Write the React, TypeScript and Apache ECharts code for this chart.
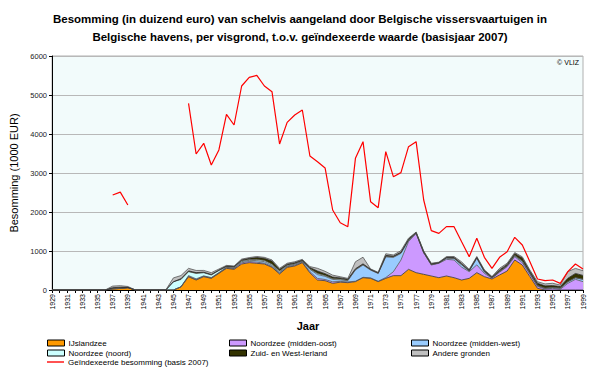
import React, { useEffect, useRef } from "react";
import * as echarts from "echarts";

const years: string[] = Array.from({ length: 71 }, (_, i) => String(1929 + i));

const ijslandzee = [
  0, 0, 0, 0, 0, 0, 0, 0, 30, 40, 60, 0, 0, 0, 0, 0, 0,
  80, 340, 256, 342, 299, 427, 556, 530, 667, 701, 684, 667, 581, 410, 581, 615, 700, 440, 256, 239, 171, 200, 188,
  214, 316, 299, 214, 299, 368, 368, 530, 444, 402, 359, 316, 359, 316, 256, 299, 444, 342, 282, 385, 487, 769, 641,
  342, 43, 0, 0, 0, 0, 0, 0,
];
const middenOost = [
  0, 0, 0, 0, 0, 0, 0, 0, 0, 0, 0, 0, 0, 0, 0, 0, 0, 0,
  10, 10, 10, 10, 10, 15, 20, 30, 30, 30, 20, 20, 20, 15, 20, 15, 30, 40, 30, 40, 20, 20, 10, 10, 10, 10, 20, 100,
  400, 710, 1010, 555, 282, 368, 427, 453, 330, 170, 200, 85, 20, 70, 110, 86, 60, 60, 50, 26, 43, 17, 171, 274, 214,
];
const middenWest = [
  0, 0, 0, 0, 0, 0, 0, 0, 0, 0, 0, 0, 0, 0, 0, 0, 0, 0,
  20, 20, 10, 10, 10, 10, 15, 30, 30, 40, 40, 30, 30, 20, 25, 20, 60, 100, 80, 60, 40, 30, 290, 315, 200, 200, 530,
  370, 170, 30, 0, 0, 10, 10, 30, 40, 60, 20, 170, 40, 10, 20, 20, 30, 40, 30, 20, 20, 20, 30, 40, 40, 60,
];
const noord = [
  0, 0, 0, 0, 0, 0, 0, 0, 0, 0, 0, 0, 0, 0, 0, 0,
  210, 190, 100, 140, 80, 65, 50, 15, 20, 20, 20, 30, 30, 30, 30, 20, 15, 10, 15, 30, 20, 20, 20, 10, 10, 10, 10, 5,
  10, 10, 10, 10, 0, 0, 0, 0, 5, 5, 5, 0, 5,
  0, 0, 0, 0, 0, 0, 0, 0, 0, 0, 0, 0, 0, 0,
];
const ierland = [
  0, 0, 0, 0, 0, 0, 0, 0, 30, 30, 10, 0, 0, 0, 0, 0, 0,
  20, 20, 20, 15, 15, 15, 20, 15, 25, 30, 50, 55, 80, 40, 25, 25, 25, 30, 60, 50, 40, 30, 30, 20, 20, 10, 10, 30, 20,
  20, 20, 25, 30, 20, 10, 15, 20, 30, 20, 20, 30, 20, 40, 40, 50, 80, 50, 60, 60, 50, 40, 90, 110, 100,
];
const andere = [
  0, 0, 0, 0, 0, 0, 0, 0, 40, 40, 20, 0, 0, 0, 0, 0,
  100, 80, 65, 55, 45, 45, 25, 15, 15, 20, 20, 25, 25, 30, 25, 25, 25, 15, 25, 70, 60, 50, 30, 20, 180, 170, 10, 15,
  40, 30, 40, 30, 5, 15, 15, 10, 20, 25, 40, 20, 20, 20, 15, 40, 30, 25, 30, 30, 40, 50, 60, 40, 170, 130, 120,
];
const geindexeerd = [
  null, null, null, null, null, null, null, null, 2436, 2510, 2180, null, null, null, null, null, null, null,
  4787, 3487, 3761, 3205, 3590, 4504, 4231, 5231, 5453, 5504, 5231, 5085, 3744, 4299, 4487, 4615, 3436, 3290, 3130,
  2051, 1726, 1624, 3376, 3803, 2265, 2111, 3547, 2906, 3009, 3675, 3803, 2308, 1521, 1453, 1624, 1624, 1239, 855,
  1325, 838, 556, 838, 983, 1351, 1154, 726, 282, 239, 256, 171, 470, 667, 538,
];

const titleLines = [
  "Besomming (in duizend euro) van schelvis aangeland door Belgische vissersvaartuigen in",
  "Belgische havens, per visgrond, t.o.v. geïndexeerde waarde (basisjaar 2007)",
];
const legendLayout: [string, number, number][] = [
  ["IJslandzee", 47, 339],
  ["Noordzee (noord)", 47, 349],
  ["Geïndexeerde besomming (basis 2007)", 47, 358],
  ["Noordzee (midden-oost)", 229, 339],
  ["Zuid- en West-Ierland", 229, 349],
  ["Noordzee (midden-west)", 411, 339],
  ["Andere gronden", 411, 349],
];

const FONT = "Liberation Sans";
const RED_NAME = "Geïndexeerde besomming (basis 2007)";

export default function App() {
  const ref = useRef<HTMLDivElement>(null);
  useEffect(() => {
    if (!ref.current) return;
    const chart = echarts.init(ref.current, null, { renderer: "svg" });
    const area = (name: string, data: number[], color: string, border: string) => ({
      name,
      type: "line",
      stack: "total",
      data,
      symbol: "none",
      color,
      lineStyle: { color: border, width: 0.8 },
      areaStyle: { color, opacity: 1 },
      itemStyle: { color, borderColor: border, borderWidth: 1 },
      emphasis: { disabled: true },
    });
    const legends = legendLayout.map(([name, left, top]) => ({
      left,
      top,
      itemWidth: 17,
      itemHeight: 6,
      padding: 0,
      selectedMode: false,
      textStyle: { fontFamily: FONT, fontSize: 8, color: "#000", padding: [0, 0, 0, -1] },
      data: [
        name === RED_NAME
          ? { name, icon: "path://M0,0h20v1.6h-20z", itemStyle: { color: "#FF0000" } }
          : { name, icon: "rect", itemStyle: { borderColor: "#000", borderWidth: 1 } },
      ],
    }));
    chart.setOption({
      animation: false,
      backgroundColor: "#fff",
      grid: { left: 52, right: 17, top: 56, bottom: 78, show: true, backgroundColor: "#f2fbfb", borderColor: "#b0b0b0", borderWidth: 1 },
      legend: legends,
      xAxis: {
        type: "category",
        data: years,
        boundaryGap: false,
        axisLine: { lineStyle: { color: "#000" } },
        axisTick: { interval: 0, length: 3, lineStyle: { color: "#000" } },
        axisLabel: { interval: 1, rotate: 90, fontFamily: FONT, fontSize: 7, color: "#000", margin: 4 },
        splitLine: { show: false },
      },
      yAxis: {
        type: "value",
        min: 0,
        max: 6000,
        interval: 1000,
        name: "Besomming (1000 EUR)",
        nameLocation: "middle",
        nameGap: 22,
        nameTextStyle: { fontFamily: FONT, fontSize: 11, color: "#000" },
        axisLine: { show: true, lineStyle: { color: "#000" } },
        axisTick: { show: true, length: 3, lineStyle: { color: "#000" } },
        axisLabel: { fontFamily: FONT, fontSize: 7.5, color: "#222", margin: 5, formatter: (v: number) => String(v) },
        splitLine: { lineStyle: { color: "#b8b8b8", width: 1 } },
      },
      graphic: [
        { type: "text", x: 300, y: 13, style: { text: titleLines[0], textAlign: "center", fontFamily: "Liberation Sans Narrow, " + FONT, fontWeight: "bold", fontSize: 11.5, fill: "#000" } },
        { type: "text", x: 300, y: 31, style: { text: titleLines[1], textAlign: "center", fontFamily: "Liberation Sans Narrow, " + FONT, fontWeight: "bold", fontSize: 11.5, fill: "#000" } },
        { type: "text", x: 308, y: 320, style: { text: "Jaar", textAlign: "center", fontFamily: FONT, fontWeight: "bold", fontSize: 11, fill: "#000" } },
        { type: "text", right: 21, top: 59, style: { text: "© VLIZ", fontFamily: FONT, fontSize: 7, fill: "#000" } },
      ],
      series: [
        area("IJslandzee", ijslandzee, "#FF9900", "#333"),
        area("Noordzee (midden-oost)", middenOost, "#CC99FF", "#555"),
        area("Noordzee (midden-west)", middenWest, "#99CCFF", "#555"),
        area("Noordzee (noord)", noord, "#CCFFFF", "#555"),
        area("Zuid- en West-Ierland", ierland, "#333300", "#222"),
        area("Andere gronden", andere, "#C0C0C0", "#555"),
        {
          name: RED_NAME,
          type: "line",
          data: geindexeerd,
          symbol: "none",
          color: "#FF0000",
          lineStyle: { color: "#FF0000", width: 1.2 },
          emphasis: { disabled: true },
        },
      ],
    });
    return () => chart.dispose();
  }, []);
  return <div ref={ref} style={{ width: 600, height: 368, position: "absolute", left: 0, top: 0 }} />;
}
